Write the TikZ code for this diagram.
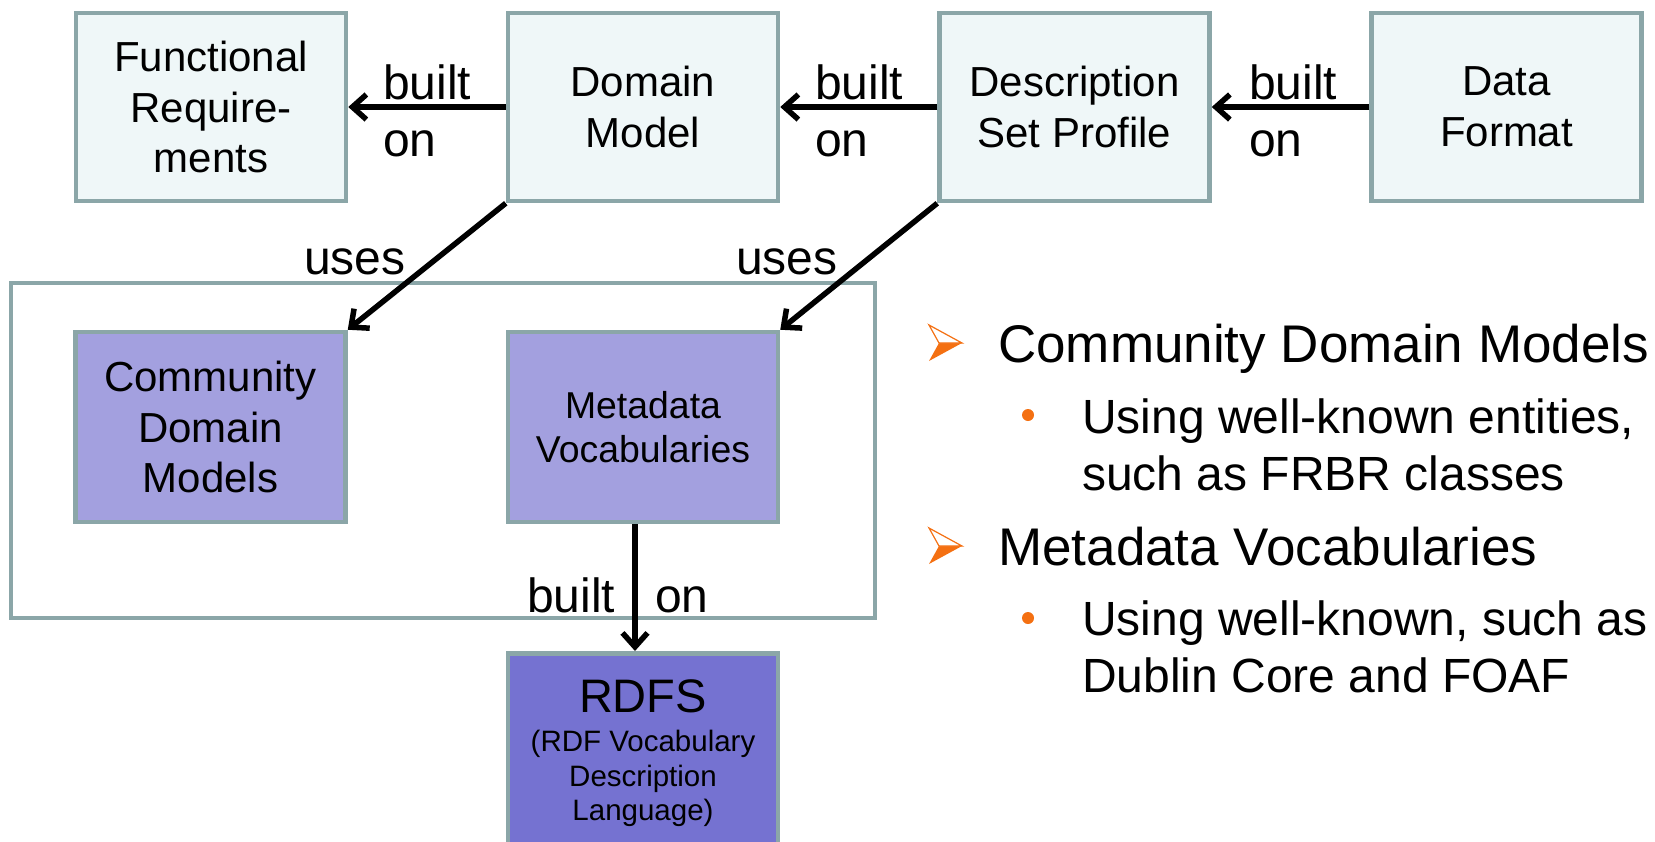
\documentclass[tikz,border=0pt]{standalone}
\usepackage{fontspec}
\setmainfont{Liberation Sans}
\usetikzlibrary{arrows.meta}
\definecolor{boxfill}{RGB}{239,247,248}
\definecolor{boxline}{RGB}{139,166,168}
\definecolor{midpurple}{RGB}{163,160,223}
\definecolor{darkpurple}{RGB}{117,114,209}
\definecolor{bulletorange}{RGB}{244,112,18}
\begin{document}
\begin{tikzpicture}[x=1pt,y=-1pt,
  box/.style={draw=boxline, line width=4.5pt, inner sep=0pt, minimum width=270pt, minimum height=188pt, align=center, font=\fontsize{42}{50.5}\selectfont},
  lightbox/.style={box, fill=boxfill},
  midbox/.style={box, fill=midpurple, minimum height=190pt},
  darkbox/.style={box, fill=darkpurple, minimum height=240pt},
  arr/.style={-{Straight Barb[length=14pt,width=25pt]}, line width=5.5pt, black},
  lbl/.style={inner sep=0pt, anchor=base west, font=\fontsize{48}{56}\selectfont},
  mainbul/.style={inner sep=0pt, anchor=base west, font=\fontsize{53}{60}\selectfont},
  subbul/.style={inner sep=0pt, anchor=base west, font=\fontsize{48}{57}\selectfont},
  bularrow/.pic={
    \fill[bulletorange] (-16.5,18) -- (16.5,0) -- (-6.5,0) -- cycle;
    \draw[bulletorange, line width=1.2pt, fill=white, line join=miter] (-16.5,-18) -- (16.5,0) -- (-6.5,0) -- cycle;
  },
  bulldot/.style={fill=bulletorange, draw=none, circle, minimum size=12pt, inner sep=0pt}
]
\useasboundingbox (0,0) rectangle (1655,841);

% group container
\node[draw=boxline, line width=4.5pt, inner sep=0pt, minimum width=864pt, minimum height=335pt] (group) at (443,450.5) {};

% top row
\node[lightbox] (fr) at (211,107) {Functional\\Require-\\ments};
\node[lightbox] (dm) at (643,107) {Domain\\Model};
\node[lightbox] (dsp) at (1074.5,107) {Description\\Set Profile};
\node[lightbox] (df) at (1506.5,107) {Data\\Format};

% middle row
\node[midbox] (cdm) at (210.5,427) {Community\\Domain\\Models};
\node[midbox, font=\fontsize{37.4}{44}\selectfont] (mv) at (643,427) {Metadata\\Vocabularies};

% RDFS
\node[darkbox, anchor=north] (rdfs) at (643,651) {};
\node[inner sep=0pt, anchor=north, align=center, font=\fontsize{29.5}{34.5}\selectfont] (rdfstext) at (643,679) {{\fontsize{47}{47}\selectfont RDFS}\\[5pt](RDF Vocabulary\\Description\\Language)};

% connectors
\draw[arr] (dm.west) -- (fr.east);
\draw[arr] (dsp.west) -- (dm.east);
\draw[arr] (df.west) -- (dsp.east);
\draw[arr] (dm.south west) -- (cdm.north east);
\draw[arr] (dsp.south west) -- (mv.north east);
\draw[arr] ([xshift=-8pt]mv.south) -- ([xshift=-8pt]rdfs.north);

% labels
\node[lbl] (b1) at (383,99) {built};
\node[lbl] (o1) at (383,156) {on};
\node[lbl] (b2) at (815,99) {built};
\node[lbl] (o2) at (815,156) {on};
\node[lbl] (b3) at (1249,99) {built};
\node[lbl] (o3) at (1249,156) {on};
\node[lbl] (u1) at (304,274) {uses};
\node[lbl] (u2) at (736,274) {uses};
\node[lbl] (b4) at (527,612) {built};
\node[lbl] (o4) at (655,612) {on};

% bullets
\pic at (945.5,343) {bularrow};
\node[mainbul] (t1) at (998,362) {Community Domain Models};
\node[bulldot] (d1) at (1028,415) {};
\node[subbul] (t11) at (1082,433) {Using well-known entities,};
\node[subbul] (t12) at (1082,490) {such as FRBR classes};
\pic at (945.5,546) {bularrow};
\node[mainbul] (t2) at (998,565) {Metadata Vocabularies};
\node[bulldot] (d2) at (1028,618) {};
\node[subbul] (t21) at (1082,635) {Using well-known, such as};
\node[subbul] (t22) at (1082,692) {Dublin Core and FOAF};
\end{tikzpicture}
\end{document}
